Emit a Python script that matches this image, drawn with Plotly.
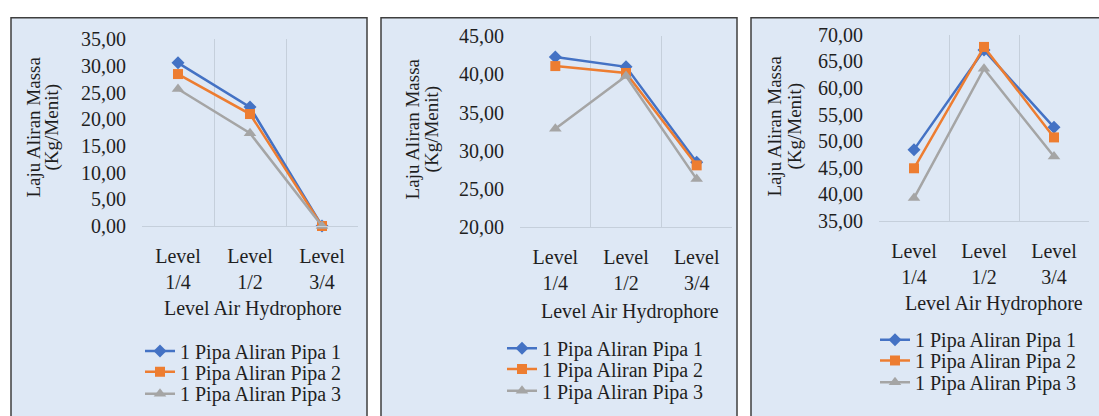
import plotly.graph_objects as go

# ---- data ----
categories = ["Level 1/4", "Level 1/2", "Level 3/4"]
tick_labels = ["Level<br>1/4", "Level<br>1/2", "Level<br>3/4"]
series_names = ["1 Pipa Aliran Pipa 1", "1 Pipa Aliran Pipa 2", "1 Pipa Aliran Pipa 3"]

# panel 1
p1_pipa1 = [30.6, 22.3, 0.0]
p1_pipa2 = [28.5, 21.0, 0.0]
p1_pipa3 = [25.7, 17.4, 0.0]
# panel 2
p2_pipa1 = [42.3, 41.0, 28.5]
p2_pipa2 = [41.1, 40.2, 28.1]
p2_pipa3 = [32.9, 39.8, 26.3]
# panel 3
p3_pipa1 = [48.4, 67.1, 52.6]
p3_pipa2 = [44.9, 67.7, 50.7]
p3_pipa3 = [39.3, 63.6, 47.1]

y_ranges = [(0, 35), (20, 45), (35, 70)]

# ---- styling ----
W, H = 1099, 416
FONT = "Liberation Serif"
TXT = "#1f1f1f"
PANEL_BG = "#dee8f5"
GRID = "#c5cfdb"
colors = ["#4472C4", "#ED7D31", "#A5A5A5"]
symbols = ["diamond", "square", "triangle-up"]
msizes = [10, 10, 11]


def px_x(v):
    return v / W


def px_y(v):
    return 1 - v / H


# panel geometry (pixels)
panels = [
    dict(box=(11, 7, 367, 430), plot_x=(142, 358), plot_y=(30, 227),
         ytitle_x=(33, 52), ytitle_y=123, xtitle=(253, 314),
         legend_x=140, legend_y=(359, 381, 404)),
    dict(box=(381, 7, 737, 430), plot_x=(520, 732), plot_y=(26.7, 228.3),
         ytitle_x=(412, 432), ytitle_y=125, xtitle=(630, 317),
         legend_x=502, legend_y=(356, 378, 401)),
    dict(box=(751, 7, 1110, 430), plot_x=(879, 1089), plot_y=(25, 221.7),
         ytitle_x=(775, 795), ytitle_y=122, xtitle=(994, 309),
         legend_x=875, legend_y=(347, 369, 392)),
]

all_series = [
    [p1_pipa1, p1_pipa2, p1_pipa3],
    [p2_pipa1, p2_pipa2, p2_pipa3],
    [p3_pipa1, p3_pipa2, p3_pipa3],
]

fig = go.Figure()
layout = dict(
    width=W, height=H,
    margin=dict(l=0, r=0, t=0, b=0),
    paper_bgcolor="white",
    plot_bgcolor="rgba(0,0,0,0)",
    separators=",.",
    font=dict(family=FONT, size=19, color=TXT),
    showlegend=True,
)
shapes = []
annotations = []

legend_idx = 0
for i, (pn, series) in enumerate(zip(panels, all_series)):
    n = "" if i == 0 else str(i + 1)
    xa, ya = "x" + n, "y" + n
    x0, y0, x1, y1 = pn["box"]
    shapes.append(dict(type="rect", xref="paper", yref="paper", layer="below",
                       x0=px_x(x0), x1=px_x(x1), y0=px_y(y1), y1=px_y(y0),
                       fillcolor=PANEL_BG, line=dict(color="#3f3f3f", width=1.5)))

    layout["xaxis" + n] = dict(
        domain=[px_x(pn["plot_x"][0]), px_x(pn["plot_x"][1])],
        anchor=ya, type="category", categoryorder="array", categoryarray=categories,
        tickvals=categories, ticktext=tick_labels, tickson="boundaries",
        showgrid=True, gridcolor=GRID, gridwidth=1,
        showline=True, linecolor=GRID, linewidth=1, mirror=False,
        ticks="", ticklabelstandoff=12, range=[-0.5, 2.5],
        tickfont=dict(family=FONT, size=20, color=TXT), zeroline=False,
    )
    lo, hi = y_ranges[i]
    layout["yaxis" + n] = dict(
        domain=[px_y(pn["plot_y"][1]), px_y(pn["plot_y"][0])],
        anchor=xa, range=[lo, hi], dtick=5, tick0=lo, tickformat=".2f",
        showgrid=False, zeroline=False, showline=False, ticks="",
        ticklabelstandoff=15, tickfont=dict(family=FONT, size=20, color=TXT),
    )

    for j, vals in enumerate(series):
        legend_idx += 1
        lg = "legend" if legend_idx == 1 else f"legend{legend_idx}"
        fig.add_trace(go.Scatter(
            x=categories, y=vals, xaxis=xa, yaxis=ya, name=series_names[j],
            mode="lines+markers", cliponaxis=False, legend=lg,
            line=dict(color=colors[j], width=2.5),
            marker=dict(symbol=symbols[j], size=msizes[j], color=colors[j]),
        ))
        layout[lg] = dict(
            x=px_x(pn["legend_x"]), y=px_y(pn["legend_y"][j]),
            xanchor="left", yanchor="middle", bgcolor="rgba(0,0,0,0)",
            font=dict(family=FONT, size=20, color=TXT),
        )

    # y-axis title (two lines)
    annotations.append(dict(text="Laju Aliran Massa", xref="paper", yref="paper",
                            x=px_x(pn["ytitle_x"][0]), y=px_y(pn["ytitle_y"]),
                            textangle=-90, showarrow=False,
                            xanchor="center", yanchor="middle",
                            font=dict(family=FONT, size=19, color=TXT)))
    annotations.append(dict(text="(Kg/Menit)", xref="paper", yref="paper",
                            x=px_x(pn["ytitle_x"][1]), y=px_y(pn["ytitle_y"]),
                            textangle=-90, showarrow=False,
                            xanchor="center", yanchor="middle",
                            font=dict(family=FONT, size=19, color=TXT)))
    # x-axis title
    annotations.append(dict(text="Level Air Hydrophore", xref="paper", yref="paper",
                            x=px_x(pn["xtitle"][0]), y=px_y(pn["xtitle"][1]),
                            showarrow=False, xanchor="center", yanchor="middle",
                            font=dict(family=FONT, size=20, color=TXT)))

layout["shapes"] = shapes
layout["annotations"] = annotations
fig.update_layout(**layout)
fig.write_html("out.html")
